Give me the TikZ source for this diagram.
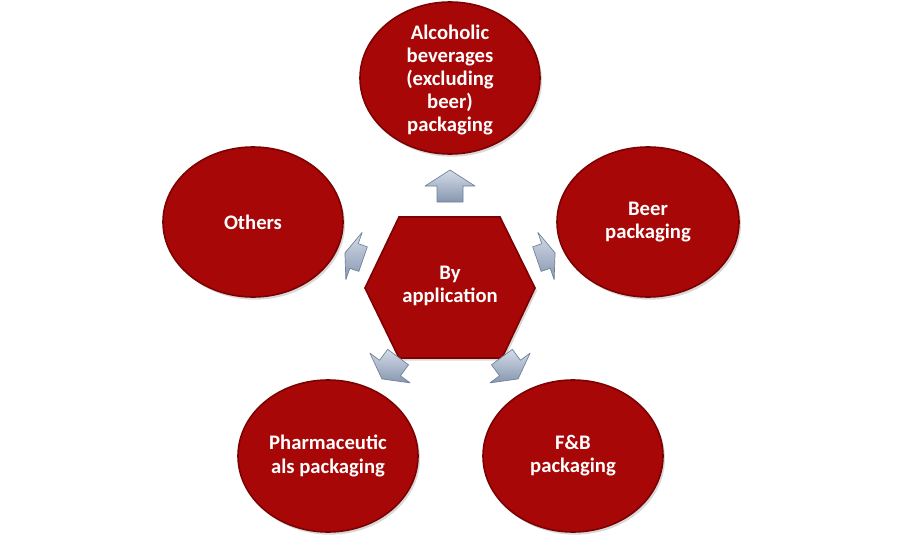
\documentclass[tikz,border=0pt]{standalone}
\usepackage{fontspec}
\setmainfont{Carlito}
\usetikzlibrary{shadows}
\definecolor{bubred}{HTML}{A80707}
\definecolor{bubrim}{HTML}{7C0202}
\definecolor{arrtop}{HTML}{D3DBE8}
\definecolor{arrbot}{HTML}{8797B0}
\definecolor{arredge}{HTML}{6F7F98}
\tikzset{
  bubble/.style={ellipse, fill=bubred, draw=bubrim, line width=1.2pt,
    drop shadow={opacity=0.3, shadow xshift=1.5pt, shadow yshift=-2pt},
    inner sep=0pt},
  label/.style={text=white, font=\bfseries\fontsize{15.5}{17.4}\selectfont, align=center},
  hexa/.style={fill=bubred, draw=bubrim, line width=1.2pt,
    drop shadow={opacity=0.3, shadow xshift=1.5pt, shadow yshift=-2pt}},
  blockarrow/.style={top color=arrtop, bottom color=arrbot, draw=arredge, line width=0.5pt, line join=round}
}
\usetikzlibrary{shapes.geometric}
\begin{document}
\begin{tikzpicture}[x=0.75pt,y=-0.75pt]
\useasboundingbox (0,0) rectangle (900,543);
% ellipses
\node[bubble, minimum width=180*0.75pt, minimum height=152*0.75pt] (alc) at (450,78) {};
\node[bubble, minimum width=182*0.75pt, minimum height=150*0.75pt] (beer) at (648,222) {};
\node[bubble, minimum width=180*0.75pt, minimum height=152*0.75pt] (fb) at (573,456) {};
\node[bubble, minimum width=180*0.75pt, minimum height=152*0.75pt] (pharma) at (328,456) {};
\node[bubble, minimum width=180*0.75pt, minimum height=150*0.75pt] (others) at (253,222) {};
% hexagon
\path[hexa] (365,288) -- (399,217) -- (500,217) -- (535,288) -- (502,358) -- (399,358) -- cycle;
\coordinate (hex) at (450,286);
% texts
\node[label] (talc) at (450,80) {Alcoholic\\beverages\\(excluding\\beer)\\packaging};
\node[label] (tbeer) at (beer) {Beer\\packaging};
\node[label] (tfb) at (fb) {F\&B\\packaging};
\node[label] (tph) at (pharma) {Pharmaceutic\\als packaging};
\node[label] (toth) at (others) {Others};
\node[label] (thex) at (hex) {By\\application};
% arrows
\path[blockarrow, shift={(450,186)}, rotate=90] (16,0) -- (0,25) -- (0,13) -- (-16,13) -- (-16,-13) -- (0,-13) -- (0,-25) -- cycle;
\path[blockarrow, shift={(546,256)}, rotate=19, xscale=0.6] (16,0) -- (0,25) -- (0,13) -- (-16,13) -- (-16,-13) -- (0,-13) -- (0,-25) -- cycle;
\path[blockarrow, shift={(354,256)}, rotate=161, xscale=0.6] (16,0) -- (0,25) -- (0,13) -- (-16,13) -- (-16,-13) -- (0,-13) -- (0,-25) -- cycle;
\path[blockarrow, shift={(510,368)}, rotate=-53.5, xscale=0.85] (16,0) -- (0,25) -- (0,13) -- (-16,13) -- (-16,-13) -- (0,-13) -- (0,-25) -- cycle;
\path[blockarrow, shift={(390,368)}, rotate=-126.5, xscale=0.85] (16,0) -- (0,25) -- (0,13) -- (-16,13) -- (-16,-13) -- (0,-13) -- (0,-25) -- cycle;
\end{tikzpicture}
\end{document}
